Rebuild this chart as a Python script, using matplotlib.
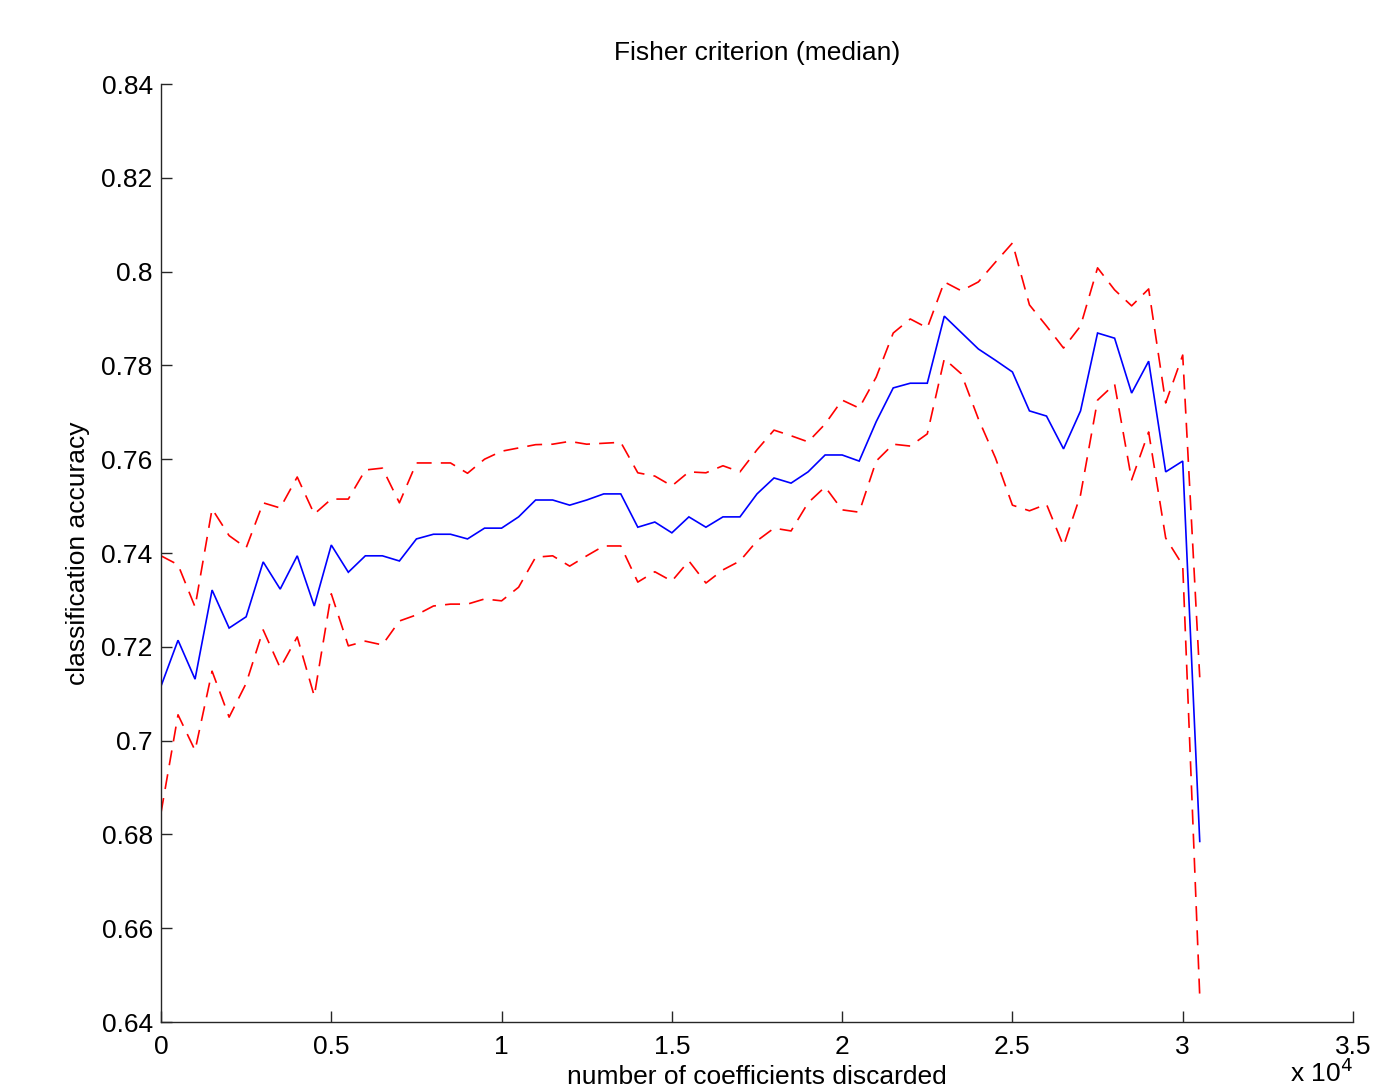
import matplotlib
matplotlib.use("Agg")
import matplotlib.pyplot as plt
import numpy as np

plt.rcParams['font.family'] = ['Liberation Sans', 'DejaVu Sans']

# number of coefficients discarded
x_vals = [0, 500, 1000, 1500, 2000, 2500, 3000, 3500, 4000, 4500,
          5000, 5500, 6000, 6500, 7000, 7500, 8000, 8500, 9000, 9500,
          10000, 10500, 11000, 11500, 12000, 12500, 13000, 13500, 14000, 14500,
          15000, 15500, 16000, 16500, 17000, 17500, 18000, 18500, 19000, 19500,
          20000, 20500, 21000, 21500, 22000, 22500, 23000, 23500, 24000, 24500,
          25000, 25500, 26000, 26500, 27000, 27500, 28000, 28500, 29000, 29500,
          30000, 30500]

median_acc = [0.7116, 0.7214, 0.7131, 0.7321, 0.7240, 0.7264, 0.7381, 0.7323, 0.7394, 0.7287,
              0.7417, 0.7359, 0.7394, 0.7394, 0.7383, 0.7430, 0.7440, 0.7440, 0.7430, 0.7453,
              0.7453, 0.7477, 0.7513, 0.7513, 0.7502, 0.7513, 0.7526, 0.7526, 0.7455, 0.7466,
              0.7443, 0.7477, 0.7455, 0.7477, 0.7477, 0.7526, 0.7560, 0.7549, 0.7573, 0.7609,
              0.7609, 0.7596, 0.7680, 0.7752, 0.7762, 0.7762, 0.7905, 0.7870, 0.7835, 0.7811,
              0.7786, 0.7703, 0.7692, 0.7622, 0.7703, 0.7869, 0.7858, 0.7741, 0.7809, 0.7573,
              0.7596, 0.6785]

upper_acc = [0.7394, 0.7375, 0.7285, 0.7494, 0.7437, 0.7411, 0.7507, 0.7496, 0.7562, 0.7483,
             0.7515, 0.7515, 0.7577, 0.7581, 0.7507, 0.7592, 0.7592, 0.7592, 0.7570, 0.7600,
             0.7617, 0.7624, 0.7631, 0.7632, 0.7638, 0.7632, 0.7634, 0.7636, 0.7571, 0.7564,
             0.7543, 0.7573, 0.7571, 0.7586, 0.7573, 0.7620, 0.7662, 0.7650, 0.7637, 0.7675,
             0.7726, 0.7709, 0.7775, 0.7869, 0.7899, 0.7880, 0.7978, 0.7959, 0.7978, 0.8020,
             0.8061, 0.7929, 0.7884, 0.7837, 0.7884, 0.8008, 0.7961, 0.7927, 0.7963, 0.7720,
             0.7822, 0.7135]

lower_acc = [0.6846, 0.7055, 0.6979, 0.7148, 0.7050, 0.7122, 0.7236, 0.7155, 0.7221, 0.7095,
             0.7313, 0.7202, 0.7212, 0.7204, 0.7255, 0.7268, 0.7287, 0.7291, 0.7291, 0.7302,
             0.7298, 0.7327, 0.7391, 0.7394, 0.7372, 0.7394, 0.7415, 0.7415, 0.7338, 0.7360,
             0.7340, 0.7383, 0.7336, 0.7364, 0.7383, 0.7426, 0.7453, 0.7447, 0.7507, 0.7541,
             0.7492, 0.7487, 0.7596, 0.7632, 0.7628, 0.7654, 0.7814, 0.7782, 0.7686, 0.7603,
             0.7502, 0.7490, 0.7504, 0.7415, 0.7524, 0.7726, 0.7760, 0.7556, 0.7658, 0.7432,
             0.7374, 0.6455]

x_ticks = [0, 5000, 10000, 15000, 20000, 25000, 30000, 35000]
x_ticklabels = ["0", "0.5", "1", "1.5", "2", "2.5", "3", "3.5"]
y_ticks = [0.64, 0.66, 0.68, 0.70, 0.72, 0.74, 0.76, 0.78, 0.80, 0.82, 0.84]
y_ticklabels = ["0.64", "0.66", "0.68", "0.7", "0.72", "0.74", "0.76", "0.78", "0.8", "0.82", "0.84"]

FS = 19

fig = plt.figure(figsize=(13.98, 10.87), dpi=100)
ax = fig.add_axes([161/1398, 1 - 1022/1087, (1353 - 161)/1398, (1022 - 84)/1087])

ax.plot(x_vals, median_acc, color=(0, 0, 1), lw=1.2, solid_joinstyle='miter')
ax.plot(x_vals, upper_acc, color=(1, 0, 0), lw=1.2, dashes=(9, 5.5))
ax.plot(x_vals, lower_acc, color=(1, 0, 0), lw=1.2, dashes=(9, 5.5))

ax.set_xlim(0, 35000)
ax.set_ylim(0.64, 0.84)
ax.set_xticks(x_ticks)
ax.set_xticklabels(x_ticklabels)
ax.set_yticks(y_ticks)
ax.set_yticklabels(y_ticklabels)

for s in ['top', 'right']:
    ax.spines[s].set_visible(False)
for s in ['left', 'bottom']:
    ax.spines[s].set_linewidth(1.0)
    ax.spines[s].set_color('#262626')

ax.tick_params(direction='in', length=8, width=1.0, labelsize=FS, color='#262626')
ax.tick_params(axis='y', pad=6)
ax.tick_params(axis='x', pad=9)

ax.set_title("Fisher criterion (median)", fontsize=FS, pad=17)
ax.set_xlabel("number of coefficients discarded", fontsize=FS, labelpad=5)
ax.set_ylabel("classification accuracy", fontsize=FS, labelpad=8)

fig.text(1290/1398, 0.0, r"x 10$^{4}$", fontsize=FS, ha='left', va='bottom')

fig.savefig("out.png", dpi=100)
